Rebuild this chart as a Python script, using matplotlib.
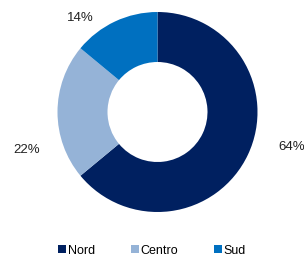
import matplotlib
matplotlib.use("Agg")
import matplotlib.pyplot as plt
from matplotlib.patches import Patch

categories = ["Nord", "Centro", "Sud"]
values = [64, 22, 14]
colors = ["#002060", "#95B3D7", "#0070C0"]
label_pos = [(292, 147), (27, 150), (80, 18)]  # pixel positions of % labels

plt.rcParams['font.family'] = ['Liberation Sans', 'DejaVu Sans']

W, H = 304, 257
fig = plt.figure(figsize=(W / 100, H / 100), dpi=100)
ax = fig.add_axes([0, 0, 1, 1])
ax.set_xlim(0, W)
ax.set_ylim(0, H)
ax.set_aspect('equal')
ax.axis('off')

ax.pie(values, colors=colors, startangle=90, counterclock=False,
       center=(157.5, H - 112), radius=100,
       wedgeprops=dict(width=50, edgecolor='none'))
ax.set_xlim(0, W)
ax.set_ylim(0, H)

for v, (x, y) in zip(values, label_pos):
    ax.text(x, H - y, f"{v}%", ha='center', va='center', fontsize=9.5, color='#222222')

handles = [Patch(facecolor=c, edgecolor='none') for c in colors]
fig.legend(handles, categories, loc='center', bbox_to_anchor=(0.5, (H - 250.5) / H),
           ncol=3, frameon=False, fontsize=9, handlelength=0.65, handleheight=0.65,
           handletextpad=0.1, columnspacing=2.9, borderpad=0)

fig.savefig("out.png", dpi=100)
